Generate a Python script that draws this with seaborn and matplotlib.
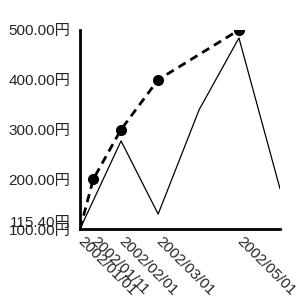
import matplotlib
matplotlib.use("Agg")
import matplotlib.pyplot as plt
import matplotlib.dates as mdates
import matplotlib.ticker as mticker
import pandas as pd
import seaborn as sns

dash_dates = ["2002-01-01", "2002-01-11", "2002-02-01", "2002-03-01", "2002-05-01"]
dash_values = [100, 200, 300, 400, 500]
solid_dates = ["2002-01-01", "2002-02-01", "2002-03-01", "2002-04-01", "2002-05-01", "2002-06-01"]
solid_values = [100, 277, 130, 340, 484, 181]
y_ticks = [100, 115.40, 200, 300, 400, 500]
x_tick_labels = ["2002/01/01", "2002/01/11", "2002/02/01", "2002/03/01", "2002/05/01"]

sns.set_style("white")
plt.rcParams["font.family"] = ["Liberation Sans", "Noto Sans CJK JP", "DejaVu Sans"]

dash_df = pd.DataFrame({"date": pd.to_datetime(dash_dates), "value": dash_values})
solid_df = pd.DataFrame({"date": pd.to_datetime(solid_dates), "value": solid_values})

fig = plt.figure(figsize=(3, 3), dpi=100)
ax = fig.add_axes([80 / 300, 71 / 300, 200 / 300, 199 / 300])

sns.lineplot(data=solid_df, x="date", y="value", ax=ax, color="black", linewidth=0.9)
sns.lineplot(data=dash_df, x="date", y="value", ax=ax, color="black", linewidth=2,
             linestyle=(0, (3, 2)), marker="o", markersize=8, markevery=[1, 2, 3, 4],
             markeredgewidth=0)

ax.set_xlim(pd.Timestamp("2002-01-01"), pd.Timestamp("2002-06-01"))
ax.set_ylim(100, 500)
ax.set_xticks(pd.to_datetime(dash_dates))
ax.set_xticklabels(x_tick_labels, rotation=-45, ha="left", va="center", rotation_mode="anchor", fontsize=11)
ax.set_yticks(y_ticks)
ax.yaxis.set_major_formatter(mticker.FuncFormatter(lambda v, p: f"{v:.2f}円"))
for lab in ax.get_yticklabels():
    lab.set_fontsize(11)
ax.set_xlabel("")
ax.set_ylabel("")
for s in ["top", "right"]:
    ax.spines[s].set_visible(False)
for s in ["left", "bottom"]:
    ax.spines[s].set_linewidth(2)
    ax.spines[s].set_color("black")
ax.tick_params(axis="both", direction="out", length=5, width=1.5, color="black", pad=2)

fig.savefig("out.png", dpi=100)
